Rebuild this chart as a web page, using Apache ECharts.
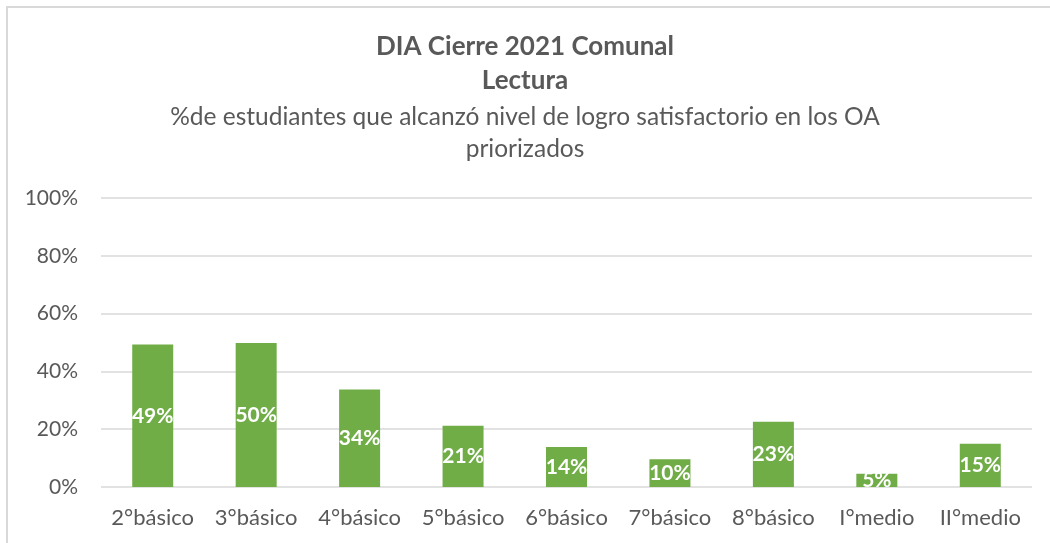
<!DOCTYPE html>
<html>
<head>
<meta charset="utf-8">
<title>DIA Cierre 2021 Comunal - Lectura</title>
<script src="https://cdn.jsdelivr.net/npm/echarts@6/dist/echarts.min.js"></script>
<style>
  html, body { margin: 0; padding: 0; background: #fff; }
  #lecturabar { width: 1050px; height: 543px; }
</style>
</head>
<body>
<div id="lecturabar"></div>
<script>
  // niveles y % de logro satisfactorio
  const niveles = ['2°básico', '3°básico', '4°básico', '5°básico', '6°básico', '7°básico', '8°básico', 'I°medio', 'II°medio'];
  const logro = [49.3, 49.8, 33.7, 21.2, 13.8, 9.6, 22.6, 4.6, 15.0];
  const ticksY = [0, 20, 40, 60, 80, 100];

  const textColor = '#595959';
  const fontName = 'Lato, "Open Sans", sans-serif';

  const option = {
    backgroundColor: '#fff',
    animation: false,
    graphic: [{
      type: 'rect',
      silent: true,
      shape: {x: 7, y: 7, width: 1100, height: 600},
      style: {fill: 'none', stroke: '#d9d9d9', lineWidth: 2}
    }],
    title: [
      {
        text: 'DIA Cierre 2021 Comunal',
        left: 'center',
        top: 29,
        textStyle: {fontFamily: fontName, fontWeight: 'bold', fontSize: 26, color: textColor}
      },
      {
        text: 'Lectura',
        left: 'center',
        top: 63,
        textStyle: {fontFamily: fontName, fontWeight: 'bold', fontSize: 26, color: textColor}
      },
      {
        text: '%de estudiantes que alcanzó nivel de logro satisfactorio en los OA\npriorizados',
        left: 'center',
        top: 96,
        textStyle: {fontFamily: fontName, fontWeight: 'normal', fontSize: 24.5, lineHeight: 32, color: textColor}
      }
    ],
    grid: {left: 101, right: 18, top: 198, bottom: 56},
    xAxis: {
      type: 'category',
      data: niveles,
      axisLine: {show: false},
      axisTick: {show: false},
      axisLabel: {interval: 0, color: textColor, fontFamily: fontName, fontSize: 22, margin: 20}
    },
    yAxis: {
      type: 'value',
      min: ticksY[0],
      max: ticksY[ticksY.length - 1],
      interval: 20,
      axisLine: {show: false},
      axisTick: {show: false},
      splitLine: {lineStyle: {color: '#d9d9d9', width: 1.5}},
      axisLabel: {
        color: textColor, fontFamily: fontName, fontSize: 21, margin: 23,
        formatter: '{value}%'
      }
    },
    series: [{
      type: 'bar',
      data: logro,
      barWidth: 41,
      itemStyle: {color: '#70ad47'},
      label: {
        show: true,
        position: 'inside',
        color: '#fff',
        fontFamily: fontName,
        fontWeight: 'bold',
        fontSize: 21,
        formatter: function (p) { return Math.round(p.value) + '%'; }
      }
    }]
  };

  const chart = echarts.init(document.getElementById('lecturabar'));
  chart.setOption(option);
</script>
</body>
</html>
